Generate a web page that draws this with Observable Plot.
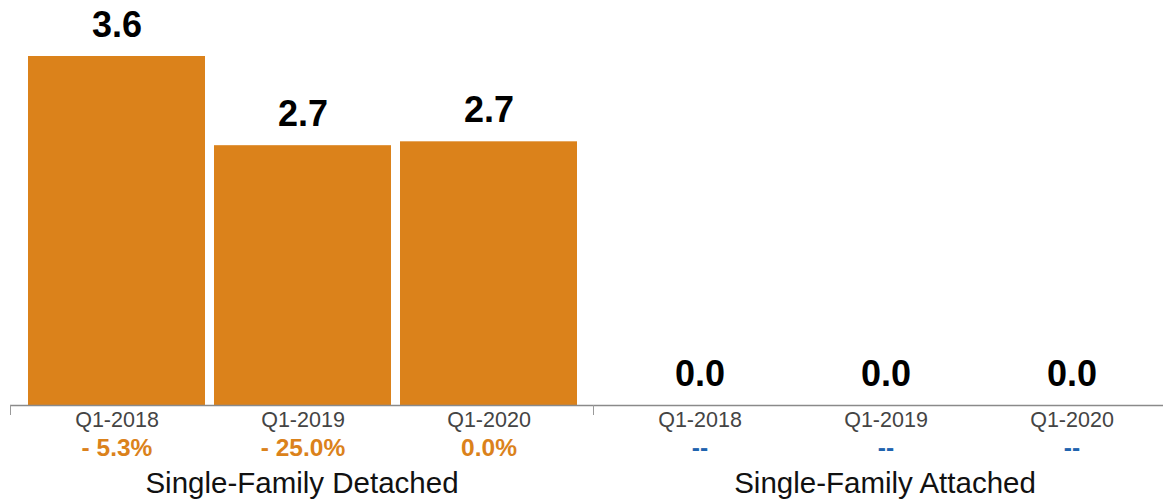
<!DOCTYPE html>
<html>
<head>
<meta charset="utf-8">
<script src="https://cdn.jsdelivr.net/npm/d3@7"></script>
<script src="https://cdn.jsdelivr.net/npm/@observablehq/plot@0.6"></script>
<style>
  html, body { margin: 0; padding: 0; background: #fff; overflow: hidden; }
  #chart svg { display: block; }
</style>
</head>
<body>
<div id="chart"></div>
<script>
// ---- data ----
const groups = ["Single-Family Detached", "Single-Family Attached"];
const quarters = ["Q1-2018", "Q1-2019", "Q1-2020"];
const detachedValues = [3.6, 2.68, 2.72];
const attachedValues = [0.0, 0.0, 0.0];
const detachedChanges = ["- 5.3%", "- 25.0%", "0.0%"];
const attachedChanges = ["--", "--", "--"];

// ---- table built from the arrays ----
const seriesValues = [detachedValues, attachedValues];
const seriesChanges = [detachedChanges, attachedChanges];
const data = groups.flatMap((g, gi) =>
  quarters.map((q, qi) => ({
    group: g,
    quarter: q,
    value: seriesValues[gi][qi],
    change: seriesChanges[gi][qi]
  }))
);

const ORANGE = "#DB821B";
const BLUE = "#1F64AF";
const fmt = d3.format(".1f");

const chart = Plot.plot({
  width: 1163,
  height: 500,
  marginTop: 56,
  marginBottom: 95,
  marginLeft: 0,
  marginRight: 0,
  style: { fontFamily: "'Liberation Sans', Arial, Helvetica, sans-serif", background: "#fff" },
  fx: { domain: groups, range: [10, 1176], padding: 0, axis: null },
  x: { domain: quarters, range: [17.5, 567.5], paddingInner: 0.048, paddingOuter: 0, axis: null },
  y: { domain: [0, d3.max(data, d => d.value)], axis: null },
  marks: [
    Plot.barY(data, { fx: "group", x: "quarter", y: "value", fill: ORANGE }),
    Plot.ruleY([0], { stroke: "#8a8a8a", strokeWidth: 1.5 }),
    // value labels
    Plot.text(data, {
      fx: "group", x: "quarter", y: "value",
      text: d => fmt(d.value),
      lineAnchor: "middle",
      dy: -31, fontSize: 36, fontWeight: "bold", fill: "#000"
    }),
    // quarter labels
    Plot.text(data, {
      fx: "group", x: "quarter", text: "quarter",
      frameAnchor: "bottom", lineAnchor: "middle",
      dy: 15, fontSize: 21.5, fill: "#444"
    }),
    // change labels
    Plot.text(data, {
      fx: "group", x: "quarter", text: "change",
      frameAnchor: "bottom", lineAnchor: "middle",
      dy: 42.5, fontSize: 24.5, fontWeight: "bold",
      fill: d => d.change === "--" ? BLUE : ORANGE
    }),
    // group labels
    Plot.text(groups, {
      fx: d => d, text: d => d,
      frameAnchor: "bottom", lineAnchor: "middle",
      dy: 78, fontSize: 29.5, fill: "#111"
    })
  ]
});

document.getElementById("chart").appendChild(chart);

// group boundary ticks drawn from the fx scale
const fxScale = chart.scale("fx");
const yScale = chart.scale("y");
const y0 = yScale.apply(0);
const svg = d3.select(chart);
groups.forEach(g => {
  const xb = Math.round(fxScale.apply(g)) + 0.5;
  svg.append("line")
    .attr("x1", xb).attr("x2", xb)
    .attr("y1", y0).attr("y2", y0 + 10)
    .attr("stroke", "#9a9a9a")
    .attr("stroke-width", 1);
});
</script>
</body>
</html>
